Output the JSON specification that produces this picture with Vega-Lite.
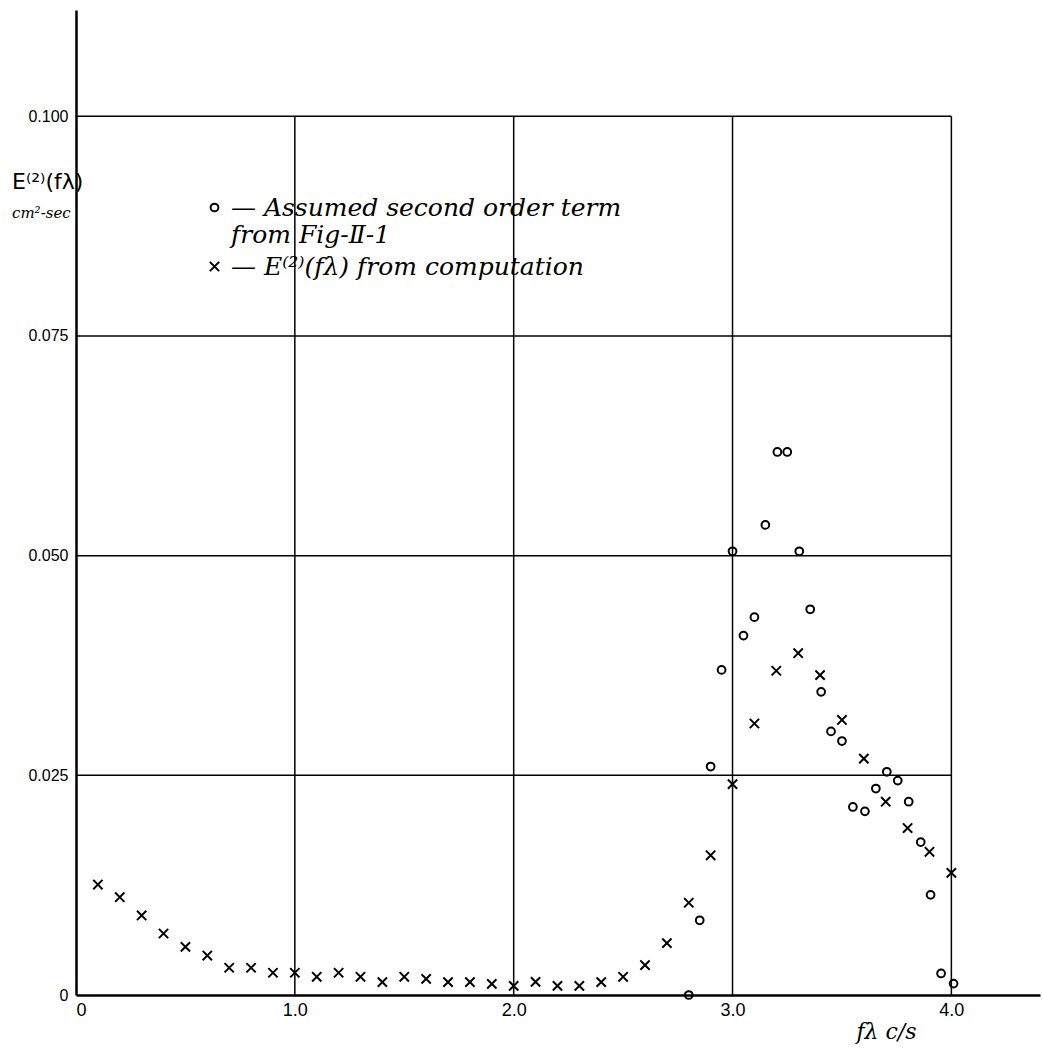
{
  "$schema": "https://vega.github.io/schema/vega-lite/v6.json",
  "width": 964,
  "height": 985,
  "autosize": {"type": "none"},
  "padding": {"left": 76, "top": 10, "right": 3, "bottom": 54},
  "background": "white",
  "config": {"view": {"stroke": null}, "font": "Liberation Sans"},
  "title": {
    "text": "E⁽²⁾(fλ)",
    "subtitle": "cm²-sec",
    "anchor": "start",
    "frame": "group",
    "orient": "top",
    "dx": -64,
    "dy": 216,
    "fontSize": 22,
    "fontWeight": "normal",
    "font": "DejaVu Sans",
    "color": "black",
    "subtitleFont": "DejaVu Serif",
    "subtitleFontStyle": "italic",
    "subtitleFontSize": 15,
    "subtitleColor": "black",
    "subtitlePadding": 12
  },
  "datasets": {
    "hgrid": [{"y": 0.025}, {"y": 0.05}, {"y": 0.075}, {"y": 0.1}],
    "vgrid": [{"x": 1}, {"x": 2}, {"x": 3}, {"x": 4}],
    "pts": [
      {"series": "A", "x": 2.8, "y": 0.0},
      {"series": "A", "x": 2.85, "y": 0.0085},
      {"series": "A", "x": 2.9, "y": 0.026},
      {"series": "A", "x": 2.95, "y": 0.037},
      {"series": "A", "x": 3.0, "y": 0.0505},
      {"series": "A", "x": 3.05, "y": 0.0409},
      {"series": "A", "x": 3.1, "y": 0.043},
      {"series": "A", "x": 3.15, "y": 0.0535},
      {"series": "A", "x": 3.205, "y": 0.0618},
      {"series": "A", "x": 3.25, "y": 0.0618},
      {"series": "A", "x": 3.305, "y": 0.0505},
      {"series": "A", "x": 3.355, "y": 0.0439},
      {"series": "A", "x": 3.405, "y": 0.0345},
      {"series": "A", "x": 3.45, "y": 0.03},
      {"series": "A", "x": 3.5, "y": 0.0289},
      {"series": "A", "x": 3.55, "y": 0.0214},
      {"series": "A", "x": 3.605, "y": 0.0209},
      {"series": "A", "x": 3.655, "y": 0.0235},
      {"series": "A", "x": 3.705, "y": 0.0254},
      {"series": "A", "x": 3.755, "y": 0.0244},
      {"series": "A", "x": 3.805, "y": 0.022},
      {"series": "A", "x": 3.86, "y": 0.0174},
      {"series": "A", "x": 3.905, "y": 0.0114},
      {"series": "A", "x": 3.953, "y": 0.00245},
      {"series": "A", "x": 4.01, "y": 0.0013},
      {"series": "B", "x": 0.1, "y": 0.01257},
      {"series": "B", "x": 0.2, "y": 0.01113},
      {"series": "B", "x": 0.3, "y": 0.00905},
      {"series": "B", "x": 0.4, "y": 0.007},
      {"series": "B", "x": 0.5, "y": 0.00548},
      {"series": "B", "x": 0.6, "y": 0.00449},
      {"series": "B", "x": 0.7, "y": 0.0031},
      {"series": "B", "x": 0.8, "y": 0.0031},
      {"series": "B", "x": 0.9, "y": 0.00253},
      {"series": "B", "x": 1.0, "y": 0.00253},
      {"series": "B", "x": 1.1, "y": 0.00207},
      {"series": "B", "x": 1.2, "y": 0.00253},
      {"series": "B", "x": 1.3, "y": 0.00207},
      {"series": "B", "x": 1.4, "y": 0.00146},
      {"series": "B", "x": 1.5, "y": 0.00207},
      {"series": "B", "x": 1.6, "y": 0.00184},
      {"series": "B", "x": 1.7, "y": 0.00146},
      {"series": "B", "x": 1.8, "y": 0.00146},
      {"series": "B", "x": 1.9, "y": 0.00127},
      {"series": "B", "x": 2.0, "y": 0.00104},
      {"series": "B", "x": 2.1, "y": 0.0015},
      {"series": "B", "x": 2.2, "y": 0.00104},
      {"series": "B", "x": 2.3, "y": 0.00104},
      {"series": "B", "x": 2.4, "y": 0.00146},
      {"series": "B", "x": 2.5, "y": 0.00207},
      {"series": "B", "x": 2.6, "y": 0.0034},
      {"series": "B", "x": 2.7, "y": 0.0059},
      {"series": "B", "x": 2.8, "y": 0.0105},
      {"series": "B", "x": 2.9, "y": 0.0159},
      {"series": "B", "x": 3.0, "y": 0.024},
      {"series": "B", "x": 3.1, "y": 0.0309},
      {"series": "B", "x": 3.2, "y": 0.0369},
      {"series": "B", "x": 3.3, "y": 0.0389},
      {"series": "B", "x": 3.4, "y": 0.0364},
      {"series": "B", "x": 3.5, "y": 0.0313},
      {"series": "B", "x": 3.6, "y": 0.0269},
      {"series": "B", "x": 3.7, "y": 0.022},
      {"series": "B", "x": 3.8, "y": 0.019},
      {"series": "B", "x": 3.9, "y": 0.0163},
      {"series": "B", "x": 4.0, "y": 0.0139}
    ]
  },
  "layer": [
    {
      "data": {"name": "hgrid"},
      "mark": {"type": "rule", "color": "black", "strokeWidth": 1.5},
      "encoding": {
        "y": {"field": "y", "type": "quantitative", "scale": {"domain": [0, 0.1121], "nice": false, "zero": false},
          "axis": {"title": null, "values": [0, 0.025, 0.05, 0.075, 0.1], "labelExpr": "datum.value == 0 ? '0' : format(datum.value, '.3f')", "ticks": false, "grid": false, "domainColor": "black", "domainWidth": 2.5, "labelFontSize": 16, "labelColor": "black", "labelPadding": 8, "labelFont": "Liberation Sans"}},
        "x": {"datum": 0, "type": "quantitative", "scale": {"domain": [0, 4.405], "nice": false, "zero": false},
          "axis": {"title": "fλ c/s", "values": [0, 1, 2, 3, 4], "labelExpr": "datum.value == 0 ? '0' : format(datum.value, '.1f')", "ticks": false, "grid": false, "domainColor": "black", "domainWidth": 2.5, "labelFontSize": 18, "labelColor": "black", "labelPadding": 6, "labelFont": "Liberation Sans", "titleFont": "DejaVu Serif", "titleFontStyle": "italic", "titleFontWeight": "normal", "titleFontSize": 22, "titleColor": "black", "titleX": 810, "titleY": 36, "titleAnchor": "middle", "titleBaseline": "middle"}},
        "x2": {"datum": 4}
      }
    },
    {
      "data": {"name": "vgrid"},
      "mark": {"type": "rule", "color": "black", "strokeWidth": 1.5},
      "encoding": {
        "x": {"field": "x", "type": "quantitative"},
        "y": {"datum": 0, "type": "quantitative"},
        "y2": {"datum": 0.1}
      }
    },
    {
      "data": {"name": "pts"},
      "mark": {"type": "point", "filled": false, "strokeWidth": 2, "opacity": 1, "color": "black", "size": 60},
      "encoding": {
        "x": {"field": "x", "type": "quantitative"},
        "y": {"field": "y", "type": "quantitative"},
        "shape": {
          "field": "series",
          "type": "nominal",
          "scale": {"domain": ["A", "B"], "range": ["circle", "M-1.2,-1.2L1.2,1.2M-1.2,1.2L1.2,-1.2"]},
          "legend": {
            "orient": "none",
            "legendX": 126,
            "legendY": 185,
            "title": null,
            "padding": 0,
            "rowPadding": 6,
            "symbolStrokeColor": "black",
            "symbolStrokeWidth": 2,
            "symbolFillColor": "transparent",
            "symbolSize": 60,
            "labelFont": "DejaVu Serif",
            "labelFontStyle": "italic",
            "labelFontSize": 25,
            "labelColor": "black",
            "labelOffset": 4,
            "labelLimit": 0,
            "labelExpr": "datum.value == 'A' ? ['— Assumed second order term', '    from Fig-Ⅱ-1'] : '— E⁽²⁾(fλ) from computation'"
          }
        }
      }
    }
  ]
}
